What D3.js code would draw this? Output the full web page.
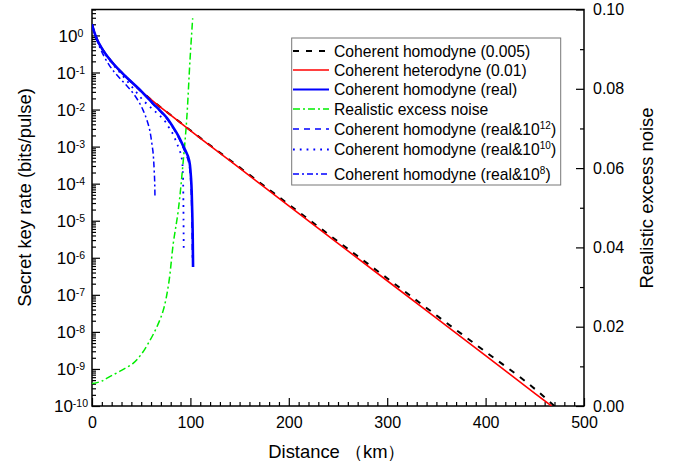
<!DOCTYPE html>
<html><head><meta charset="utf-8">
<script src="https://cdn.jsdelivr.net/npm/d3@7"></script>
<style>
body{margin:0;background:#fff;}
svg{display:block;font-family:"Liberation Sans",Arial,Helvetica,sans-serif;}
</style>
</head><body>
<svg id="chart" width="688" height="468"></svg>
<script>
// ---------- data ----------
const distHom005 = [0, 2, 5, 10, 20, 34, 51, 66, 80, 100, 150, 200, 250, 300, 350, 400, 450, 470];
const rateHom005 = [2.0, 1.3, 0.79, 0.45, 0.195, 0.079, 0.0295, 0.0138, 7.1e-3, 2.75e-3, 2.75e-4, 2.75e-5, 2.75e-6, 2.8e-7, 2.8e-8, 2.9e-9, 2.9e-10, 1.0e-10];

const distHet01 = [0, 2, 5, 10, 20, 34, 51, 66, 80, 100, 150, 200, 250, 300, 350, 400, 450, 467];
const rateHet01 = [2.0, 1.3, 0.79, 0.45, 0.195, 0.079, 0.0295, 0.0138, 7.1e-3, 2.7e-3, 2.63e-4, 2.5e-5, 2.45e-6, 2.4e-7, 2.35e-8, 2.3e-9, 2.2e-10, 1.0e-10];

const distReal = [0, 2, 5, 10, 20, 34, 51, 56, 62, 69, 76, 82, 88, 93, 96, 98, 99.5, 100.5, 101.3, 101.9, 102.4, 102.7];
const rateReal = [2.0, 1.3, 0.79, 0.45, 0.195, 0.079, 0.0295, 0.0214, 0.0145, 9.5e-3, 6.0e-3, 3.5e-3, 1.9e-3, 1.0e-3, 6.8e-4, 5.0e-4, 3.2e-4, 1.6e-4, 6.3e-5, 1.6e-5, 3.2e-6, 5.6e-7];

const distReal12 = [0, 2, 5, 10, 20, 34, 51, 56, 62, 69, 76, 82, 88, 93, 96, 98, 99.5, 100.5, 101.2, 101.7, 102.1];
const rateReal12 = [2.0, 1.3, 0.79, 0.45, 0.195, 0.079, 0.0295, 0.0214, 0.0141, 9.1e-3, 5.6e-3, 3.3e-3, 1.74e-3, 8.9e-4, 5.75e-4, 4.0e-4, 2.24e-4, 1.0e-4, 3.2e-5, 6.3e-6, 1.0e-6];

const distReal10 = [0, 2, 5, 10, 20, 30, 42, 52, 62, 69, 75, 79, 83, 86, 89, 91, 92.2, 92.7, 93.0, 93.2];
const rateReal10 = [2.0, 1.3, 0.79, 0.44, 0.182, 0.089, 0.037, 0.0178, 0.010, 6.8e-3, 4.5e-3, 3.0e-3, 2.0e-3, 1.26e-3, 7.9e-4, 5.2e-4, 2.5e-4, 7.9e-5, 1.26e-5, 1.8e-6];

const distReal8 = [0, 2, 5, 8, 17, 28, 34, 43, 52, 56, 59, 61, 62.5, 63.3, 63.8, 64.0];
const rateReal8 = [2.0, 1.26, 0.74, 0.47, 0.166, 0.071, 0.048, 0.025, 9.5e-3, 5.0e-3, 2.5e-3, 1.12e-3, 5.0e-4, 2.0e-4, 8.9e-5, 4.4e-5];

const distNoise = [0, 5, 10, 18, 30, 42, 50, 59, 66, 72.5, 78, 82.6, 87.7, 92.8, 96.2, 99.6, 102.3];
const excessNoise = [0.0057, 0.0059, 0.0063, 0.0074, 0.0090, 0.0108, 0.0130, 0.0166, 0.0200, 0.0242, 0.0310, 0.0410, 0.0494, 0.0620, 0.0721, 0.0873, 0.0978];

const xTicks = [0, 100, 200, 300, 400, 500];
const yExponents = [-10, -9, -8, -7, -6, -5, -4, -3, -2, -1, 0];
const y2Ticks = [0, 0.02, 0.04, 0.06, 0.08, 0.10];

const legendLabels = [
  ["Coherent homodyne (0.005)", null],
  ["Coherent heterodyne (0.01)", null],
  ["Coherent homodyne (real)", null],
  ["Realistic excess noise", null],
  ["Coherent homodyne (real&10", "12", ")"],
  ["Coherent homodyne (real&10", "10", ")"],
  ["Coherent homodyne (real&10", "8", ")"]
];

// ---------- layout ----------
const svg = d3.select("#chart");
const L = 92, R = 584, T = 9.5, B = 406;
const x = d3.scaleLinear().domain([0, 500]).range([L, R]);
const y = d3.scaleLog().domain([1e-10, Math.pow(10, 0.7)]).range([B, T]);
const y2 = d3.scaleLinear().domain([0, 0.1]).range([B, T]);

svg.append("defs").append("clipPath").attr("id", "clip")
  .append("rect").attr("x", L).attr("y", T).attr("width", R - L).attr("height", B - T);

// ---------- axes ----------
const xMinor = d3.range(0, 501, 10).filter(v => v % 100 !== 0);
svg.append("g").attr("transform", `translate(0,${B})`)
  .call(d3.axisBottom(x).tickValues(xMinor).tickSize(-4).tickFormat(""))
  .call(g => g.select(".domain").remove());
svg.append("g").attr("transform", `translate(0,${B})`)
  .call(d3.axisBottom(x).tickValues(xTicks).tickSizeInner(-8).tickSizeOuter(0).tickPadding(11).tickFormat(d3.format("d")))
  .call(g => g.select(".domain").remove())
  .call(g => g.selectAll("text").attr("font-size", 16).attr("fill", "#000").attr("font-family", null));

const yMinor = [];
for (let e = -10; e <= 0; e++) for (let m = 2; m <= 9; m++) { const v = m * Math.pow(10, e); if (v <= Math.pow(10, 0.7) + 1e-9) yMinor.push(v); }
svg.append("g").attr("transform", `translate(${L},0)`)
  .call(d3.axisLeft(y).tickValues(yMinor).tickSize(-4).tickFormat(""))
  .call(g => g.select(".domain").remove());
const yMajor = yExponents.map(e => Math.pow(10, e));
svg.append("g").attr("transform", `translate(${L},0)`)
  .call(d3.axisLeft(y).tickValues(yMajor).tickSizeInner(-8).tickSizeOuter(0).tickFormat(""))
  .call(g => g.select(".domain").remove());
// log labels 10^n
const yl = svg.append("g");
yExponents.forEach(e => {
  const t = yl.append("text").attr("x", 71).attr("y", y(Math.pow(10, e)) + 6.2)
    .attr("text-anchor", "middle").attr("fill", "#000");
  t.append("tspan").attr("font-size", 17).text("10");
  t.append("tspan").attr("font-size", 10.5).attr("dy", -5).text(String(e));
});

svg.append("g").attr("transform", `translate(${R},0)`)
  .call(d3.axisRight(y2).tickValues([0.01, 0.03, 0.05, 0.07, 0.09]).tickSize(-4).tickFormat(""))
  .call(g => g.select(".domain").remove());
svg.append("g").attr("transform", `translate(${R},0)`)
  .call(d3.axisRight(y2).tickValues(y2Ticks).tickSizeInner(-8).tickSizeOuter(0).tickPadding(9).tickFormat(d3.format(".2f")))
  .call(g => g.select(".domain").remove())
  .call(g => g.selectAll("text").attr("font-size", 16).attr("fill", "#000").attr("font-family", null));

svg.selectAll(".tick line").attr("stroke", "#000").attr("stroke-width", 1.2);

// frame
svg.append("rect").attr("x", L).attr("y", T).attr("width", R - L).attr("height", B - T)
  .attr("fill", "none").attr("stroke", "#000").attr("stroke-width", 1.5);

// ---------- titles ----------
svg.append("text").attr("transform", "translate(31,197.5) rotate(-90)")
  .attr("text-anchor", "middle").attr("font-size", 18.4).attr("fill", "#000")
  .text("Secret key rate (bits/pulse)");
svg.append("text").attr("transform", "translate(653,198) rotate(-90)")
  .attr("text-anchor", "middle").attr("font-size", 18.4).attr("fill", "#000")
  .text("Realistic excess noise");
svg.append("text").attr("x", 268.3).attr("y", 458)
  .attr("font-size", 18.4).attr("fill", "#000")
  .text("Distance （km）");

// ---------- curves ----------
const plot = svg.append("g").attr("clip-path", "url(#clip)");
const lineLog = (xs, ys) => d3.line().curve(d3.curveMonotoneX)
  .x((d, i) => x(xs[i])).y((d, i) => y(ys[i]))(xs);
const lineLin = (xs, ys) => d3.line().curve(d3.curveCatmullRom.alpha(0.5))
  .x((d, i) => x(xs[i])).y((d, i) => y2(ys[i]))(xs);

const styles = [
  {stroke: "#000000", w: 2, dash: "6,7"},
  {stroke: "#ff0000", w: 1.6, dash: null},
  {stroke: "#0000ff", w: 2.6, dash: null},
  {stroke: "#00ee00", w: 1.5, dash: "7,3,2,3"},
  {stroke: "#0000ff", w: 1.6, dash: "6,5"},
  {stroke: "#0000ff", w: 1.8, dash: "1.8,5"},
  {stroke: "#0000ff", w: 1.5, dash: "6,3,2,3"}
];
function path(d, s) {
  const p = plot.append("path").attr("d", d).attr("fill", "none")
    .attr("stroke", s.stroke).attr("stroke-width", s.w);
  if (s.dash) p.attr("stroke-dasharray", s.dash);
}
path(lineLog(distReal8, rateReal8), styles[6]);
path(lineLog(distReal10, rateReal10), styles[5]);
path(lineLin(distNoise, excessNoise), styles[3]);
path(lineLog(distHom005, rateHom005), styles[0]);
path(lineLog(distHet01, rateHet01), styles[1]);
path(lineLog(distReal, rateReal), styles[2]);
path(lineLog(distReal12, rateReal12), styles[4]);

// ---------- legend ----------
const lg = svg.append("g");
lg.append("rect").attr("x", 291.7).attr("y", 38).attr("width", 269).attr("height", 147)
  .attr("fill", "#fff").attr("stroke", "#777").attr("stroke-width", 1);
const rowsY = [51, 70, 89.5, 109, 129, 149.5, 174];
legendLabels.forEach((lab, i) => {
  const s = styles[i];
  const ln = lg.append("line").attr("x1", 293).attr("x2", 329).attr("y1", rowsY[i]).attr("y2", rowsY[i])
    .attr("stroke", s.stroke).attr("stroke-width", Math.min(s.w, 2));
  if (s.dash) ln.attr("stroke-dasharray", s.dash);
  const t = lg.append("text").attr("x", 334).attr("y", rowsY[i] + 5.6).attr("font-size", 15.7).attr("fill", "#000");
  t.append("tspan").text(lab[0]);
  if (lab[1]) {
    t.append("tspan").attr("font-size", 10).attr("dy", -6).text(lab[1]);
    t.append("tspan").attr("dy", 6).text(lab[2]);
  }
});
</script>
</body></html>
